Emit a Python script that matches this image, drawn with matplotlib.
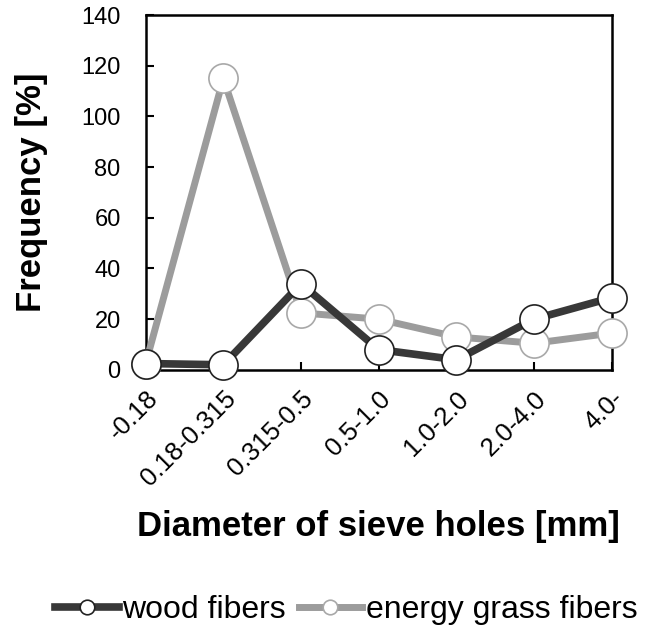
import matplotlib
matplotlib.use("Agg")
import matplotlib.pyplot as plt

plt.rcParams["font.family"] = ["Liberation Sans", "DejaVu Sans"]

categories = ["-0.18", "0.18-0.315", "0.315-0.5", "0.5-1.0", "1.0-2.0", "2.0-4.0", "4.0-"]
wood_fibers = [2.5, 2, 34, 8, 4, 20, 28.5]
grass_fibers = [2.5, 115, 22.5, 20, 13, 10.5, 14.5]
y_ticks = [0, 20, 40, 60, 80, 100, 120, 140]

DARK = "#383838"
GRAY = "#9c9c9c"

fig = plt.figure(figsize=(6.47, 6.29), dpi=100)
ax = fig.add_axes([0.2252, 0.412, 0.7202, 0.564])

x = list(range(len(categories)))
ax.plot(x, grass_fibers, color=GRAY, linewidth=5, marker="o", markersize=21,
        markerfacecolor="white", markeredgecolor="#a8a8a8", markeredgewidth=1.2,
        clip_on=False, zorder=3, label="energy grass fibers")
ax.plot(x, wood_fibers, color=DARK, linewidth=5.5, marker="o", markersize=21,
        markerfacecolor="white", markeredgecolor="#222222", markeredgewidth=1.2,
        clip_on=False, zorder=4, label="wood fibers")

ax.set_xlim(0, 6)
ax.set_ylim(0, 140)
ax.set_yticks(y_ticks)
ax.set_xticks(x)
ax.set_xticklabels(categories, rotation=45, ha="right", va="top", rotation_mode="anchor")

ax.tick_params(axis="y", direction="in", length=6, width=1.5, labelsize=17, pad=18)
ax.tick_params(axis="x", direction="in", length=6, width=1.5, labelsize=18.5, pad=12)
for s in ax.spines.values():
    s.set_linewidth(1.8)

ax.set_ylabel("Frequency [%]", fontsize=25, fontweight="bold", labelpad=24)
ax.set_xlabel("Diameter of sieve holes [mm]", fontsize=25, fontweight="bold", labelpad=14)

handles, labels = ax.get_legend_handles_labels()
fig.legend(handles[::-1], labels[::-1], loc="center", bbox_to_anchor=(0.535, 0.03),
           ncol=2, frameon=False, fontsize=23, handlelength=2.0, handletextpad=0.1,
           columnspacing=0.4, markerscale=0.5)

fig.savefig("out.png", dpi=100)
